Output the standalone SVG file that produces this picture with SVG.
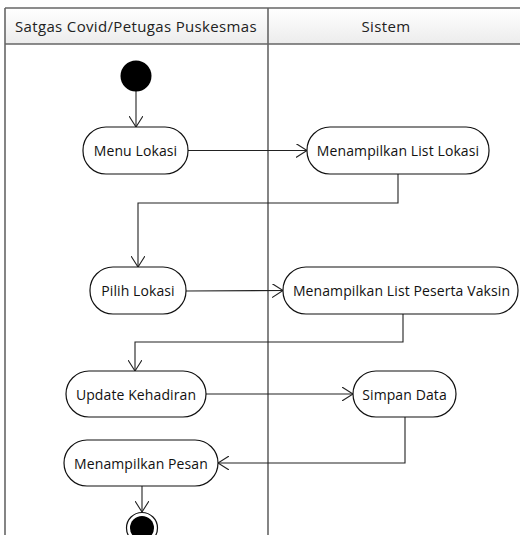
<svg xmlns="http://www.w3.org/2000/svg" width="520" height="535" viewBox="0 0 520 535">
  <style>
    .lane { fill: none; stroke: #666; stroke-width: 1.6; }
    .head { font-family: "Open Sans", "Noto Sans", sans-serif; font-size: 15px; letter-spacing: 0.35px; fill: #222; text-anchor: middle; }
    .node rect { fill: #fff; stroke: #111; stroke-width: 1.2; }
    .node text { font-family: "Open Sans", "Noto Sans", sans-serif; font-size: 14px; letter-spacing: 0.1px; fill: #111; text-anchor: middle; dominant-baseline: central; }
    .edge { fill: none; stroke: #222; stroke-width: 1.1; marker-end: url(#open); }
  </style>
  <defs>
    <linearGradient id="hdr" x1="0" y1="0" x2="0" y2="1">
      <stop offset="0" stop-color="#ffffff"/>
      <stop offset="1" stop-color="#ececec"/>
    </linearGradient>
    <marker id="open" viewBox="0 0 12 14" refX="11" refY="7" markerWidth="12" markerHeight="14" markerUnits="userSpaceOnUse" orient="auto">
      <path d="M0,0 L11,7 L0,14" fill="none" stroke="#222" stroke-width="1.1"/>
    </marker>
  </defs>

  <!-- swimlanes -->
  <g id="lanes">
    <rect x="5" y="8" width="520" height="36" fill="url(#hdr)" stroke="none"/>
    <line class="lane" x1="5" y1="8" x2="520" y2="8"/>
    <line class="lane" x1="5" y1="44" x2="520" y2="44"/>
    <line class="lane" x1="5" y1="8" x2="5" y2="535"/>
    <line class="lane" x1="268" y1="8" x2="268" y2="535"/>
    <text class="head" x="136" y="31.5">Satgas Covid/Petugas Puskesmas</text>
    <text class="head" x="386" y="31.5">Sistem</text>
  </g>

  <!-- connectors -->
  <g id="connectors">
    <path class="edge" d="M136,91 L136,127"/>
    <path class="edge" d="M188,150.5 L307,150.5"/>
    <path class="edge" d="M398,174 L398,203 L138,203 L138,267"/>
    <path class="edge" d="M186,291 L283,290.5"/>
    <path class="edge" d="M403,314 L403,342 L135,342 L135,371"/>
    <path class="edge" d="M206,394 L353,394"/>
    <path class="edge" d="M405,417 L405,463 L218,463"/>
    <path class="edge" d="M142,486 L142,512"/>
  </g>

  <!-- initial node -->
  <g id="start">
    <circle cx="136" cy="76" r="15.5" fill="#000"/>
  </g>

  <g id="menu-lokasi" class="node">
    <rect x="83" y="127" width="105" height="47" rx="23"/>
    <text x="135.5" y="150.5">Menu Lokasi</text>
  </g>
  <g id="list-lokasi" class="node">
    <rect x="307" y="127" width="182" height="47" rx="23"/>
    <text x="398" y="150.5">Menampilkan List Lokasi</text>
  </g>
  <g id="pilih-lokasi" class="node">
    <rect x="90" y="267" width="96" height="47" rx="23"/>
    <text x="138" y="290.5">Pilih Lokasi</text>
  </g>
  <g id="list-peserta" class="node">
    <rect x="283" y="267" width="235" height="47" rx="23"/>
    <text x="401.5" y="290.5">Menampilkan List Peserta Vaksin</text>
  </g>
  <g id="update-kehadiran" class="node">
    <rect x="66" y="371" width="140" height="46" rx="23"/>
    <text x="136" y="394">Update Kehadiran</text>
  </g>
  <g id="simpan-data" class="node">
    <rect x="353" y="371" width="103" height="46" rx="23"/>
    <text x="404.5" y="394">Simpan Data</text>
  </g>
  <g id="tampil-pesan" class="node">
    <rect x="64" y="440" width="154" height="46" rx="23"/>
    <text x="141" y="463">Menampilkan Pesan</text>
  </g>

  <!-- final node -->
  <g id="end">
    <circle cx="142" cy="528" r="15.5" fill="#fff" stroke="#111" stroke-width="1.2"/>
    <circle cx="142" cy="528" r="12" fill="#000"/>
  </g>
</svg>
